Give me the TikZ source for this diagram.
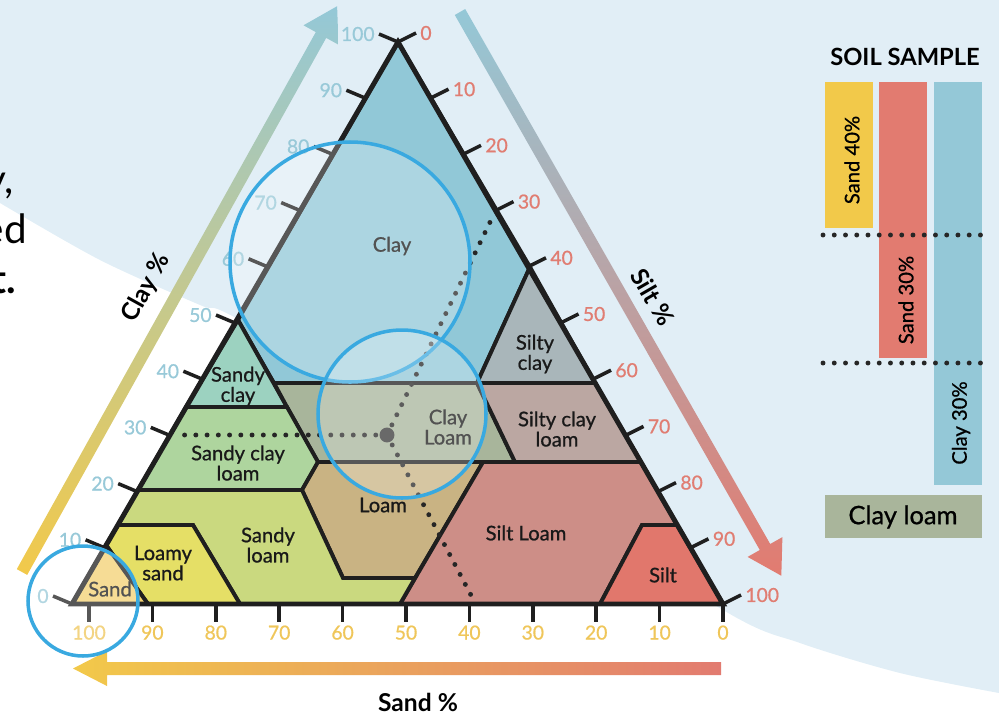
\documentclass[tikz,border=0pt]{standalone}
\usepackage{fontspec}
\setmainfont{Lato}
\newfontfamily\mediumfont{Lato}[FakeBold=0.8]
\usepackage{tikz}
\usetikzlibrary{calc}
\definecolor{bgblue}{HTML}{E1EEF6}
\definecolor{lensblue}{HTML}{39A9E0}
\definecolor{clayfill}{HTML}{91C8D7}
\definecolor{sandyclayfill}{HTML}{9CD2C0}
\definecolor{sandyclayloamfill}{HTML}{AED59E}
\definecolor{clayloamfill}{HTML}{A8B59B}
\definecolor{siltyclayfill}{HTML}{A9B6BA}
\definecolor{siltyclayloamfill}{HTML}{BBA7A2}
\definecolor{loamfill}{HTML}{C9B383}
\definecolor{sandyloamfill}{HTML}{CAD97F}
\definecolor{loamysandfill}{HTML}{E5DF66}
\definecolor{sandfill}{HTML}{F3D172}
\definecolor{siltloamfill}{HTML}{CD8E87}
\definecolor{siltfill}{HTML}{E1776C}
\definecolor{claytick}{HTML}{98C9D8}
\definecolor{silttick}{HTML}{E07D72}
\definecolor{sandtick}{HTML}{EFC65A}
\definecolor{arrowblue}{HTML}{94C8D7}
\definecolor{arrowyellow}{HTML}{F2C94A}
\definecolor{arrowred}{HTML}{E27B70}
\definecolor{samplebox}{HTML}{A9B59B}
\tikzstyle{region} = [draw=black!88, line width=2.2pt, line join=miter]
\tikzstyle{tickmark} = [draw=black!88, line width=2pt]
\tikzstyle{ticklabel} = [font=\mediumfont\fontsize{11}{11}\selectfont, inner sep=1.5pt]
\tikzstyle{regionlabel} = [align=center, font=\mediumfont\fontsize{11.5}{11.5}\selectfont, text=black!90, inner sep=0pt]
\tikzstyle{dotline} = [draw=black!85, line width=2.8pt, line cap=round, dash pattern=on 0pt off 6.4pt]
\tikzstyle{lens} = [draw=lensblue, line width=2pt, fill=white, fill opacity=0.25]
\tikzstyle{axistitle} = [font=\fontsize{14}{14}\selectfont\bfseries, inner sep=0pt]
\tikzstyle{barlabel} = [rotate=90, font=\mediumfont\fontsize{11.5}{11.5}\selectfont, inner sep=0pt]

\begin{document}
\begin{tikzpicture}[x=0.02cm, y=-0.02cm]
\useasboundingbox (0,0) rectangle (999,717);
\fill[bgblue] plot[smooth] coordinates {(999,693) (900,673) (800,643) (723,610) (480,455) (240,320) (200,305) (100,260) (0,203)} -- (0,0) -- (999,0) -- cycle;

\node[anchor=base east, inner sep=0pt, font=\fontsize{23}{23}\selectfont] (textA) at (14,193) {y,};
\node[anchor=base east, inner sep=0pt, font=\fontsize{23}{23}\selectfont] (textB) at (27,243) {ed};
\node[anchor=base east, inner sep=0pt, font=\fontsize{23}{23}\selectfont\bfseries] (textC) at (16,293) {t.};

\shade[top color=arrowblue, bottom color=arrowyellow] (16.8,569.1) -- (315.8,32.1) -- (303.5,25.3) -- (337.1,6.2) -- (338.5,44.7) -- (326.2,37.9) -- (27.2,574.9) -- cycle;
\shade[top color=arrowblue, bottom color=arrowred] (454.8,15) -- (759.8,550) -- (747.6,556.9) -- (781.3,575.7) -- (782.4,537.1) -- (770.2,544) -- (465.2,9) -- cycle;
\shade[left color=arrowyellow, right color=arrowred] (721,662) -- (107,662) -- (107,651) -- (73,668.5) -- (107,686) -- (107,675) -- (721,675) -- cycle;
\node[axistitle, rotate=61] (claytitle) at (146,288) {Clay \%};
\node[axistitle, rotate=-60] (silttitle) at (653,297) {Silt \%};
\node[axistitle] (sandtitle) at (418,702) {Sand \%};

\coordinate (L) at (72,604);
\coordinate (R) at (723,604);
\coordinate (T) at (398,42);

\filldraw[region, fill=clayfill] (T) -- (530,267) -- (477,383) -- (274,383) -- (238,320) -- cycle;
\filldraw[region, fill=sandyclayfill] (238,320) -- (287,407) -- (186,407) -- cycle;
\filldraw[region, fill=siltyclayfill] (530,267) -- (595,383) -- (477,383) -- cycle;
\filldraw[region, fill=clayloamfill] (274,383) -- (477,383) -- (515,462) -- (318,462) -- (287,407) -- cycle;
\filldraw[region, fill=siltyclayloamfill] (477,383) -- (595,383) -- (641,462) -- (515,462) -- cycle;
\filldraw[region, fill=sandyclayloamfill] (186,407) -- (287,407) -- (318,462) -- (302,490) -- (138,490) -- cycle;
\filldraw[region, fill=loamfill] (318,462) -- (483,462) -- (415,578) -- (343,578) -- (302,490) -- cycle;
\filldraw[region, fill=siltloamfill] (483,462) -- (641,462) -- (677,525) -- (642,525) -- (600,604) -- (400,604) -- cycle;
\filldraw[region, fill=siltfill] (642,525) -- (677,525) -- (723,604) -- (600,604) -- cycle;
\filldraw[region, fill=sandyloamfill] (138,490) -- (302,490) -- (343,578) -- (415,578) -- (400,604) -- (240,604) -- (193,525) -- (118,525) -- cycle;
\filldraw[region, fill=loamysandfill] (118,525) -- (193,525) -- (240,604) -- (148,604) -- (106,545) -- cycle;
\filldraw[region, fill=sandfill] (106,545) -- (148,604) -- (L) -- cycle;
\draw[draw=black!88, line width=2.8pt] (L) -- (R) -- (T) -- cycle;

\foreach \j in {0,...,10}{
    \pgfmathtruncatemacro{\val}{10*\j}
    \pgfmathsetmacro{\xx}{723-63.4*\j}
    \draw[tickmark] ($(L)!\j/10!(T)$) -- ++(-19,-8) node[ticklabel, anchor=east, text=claytick] (clay\j) {\val};
    \draw[tickmark] ($(T)!\j/10!(R)$) -- ++(18,-9) node[ticklabel, anchor=west, text=silttick] (silt\j) {\val};
    \draw[tickmark] (\xx,604) -- (\xx,622) node[ticklabel, anchor=north, text=sandtick, inner sep=1pt] (sand\j) {\val};
}

\node[regionlabel] (clay) at (392,246) {Clay};
\node[regionlabel] (sandyclay) at (238,386) {Sandy\\clay};
\node[regionlabel] (sandyclayloam) at (238,463) {Sandy clay\\loam};
\node[regionlabel] (clayloam) at (448,427) {Clay\\Loam};
\node[regionlabel] (siltyclay) at (535,354) {Silty\\clay};
\node[regionlabel] (siltyclayloam) at (557,429) {Silty clay\\loam};
\node[regionlabel] (loam) at (383,505) {Loam};
\node[regionlabel] (sandyloam) at (268,545) {Sandy\\loam};
\node[regionlabel] (loamysand) at (163,563) {Loamy\\sand};
\node[regionlabel] (sand) at (110,589) {Sand};
\node[regionlabel] (siltloam) at (526,533) {Silt Loam};
\node[regionlabel] (silt) at (663,575) {Silt};

\coordinate (clayend) at (179,435);
\coordinate (siltend) at (493,216);
\coordinate (sandend) at (473,599);
\draw[dotline] (387,435) -- (clayend);
\draw[dotline] (387,435) -- (siltend);
\draw[dotline] (387,435) -- (sandend);
\node[circle, fill=black!78, inner sep=0pt, minimum size=8.5pt] (sample) at (387,435) {};

\draw[lens] (350,262) circle[radius=120];
\draw[lens] (402,414) circle[radius=84];
\draw[lens] (83,601) circle[radius=55];

\node[font=\fontsize{13.5}{13.5}\selectfont\bfseries, inner sep=0pt] (sampletitle) at (905,57) {SOIL SAMPLE};
\fill[arrowyellow] (825,82) rectangle (873,228);
\fill[arrowred] (879,82) rectangle (927,358);
\fill[arrowblue] (934,82) rectangle (982,485);
\node[barlabel] (sandbar) at (852,160) {Sand 40\%};
\node[barlabel] (siltbar) at (906,300) {Sand 30\%};
\node[barlabel] (claybar) at (961,423) {Clay 30\%};
\draw[dotline] (823,235) -- (983,235);
\draw[dotline] (823,363) -- (983,363);
\fill[samplebox] (825,495) rectangle (982,538);
\node[font=\mediumfont\fontsize{14.5}{14.5}\selectfont, inner sep=0pt] (result) at (903,517) {Clay loam};
\end{tikzpicture}
\end{document}
